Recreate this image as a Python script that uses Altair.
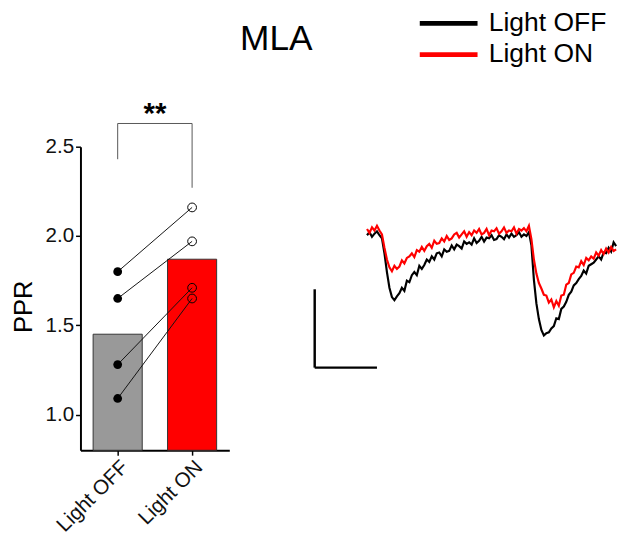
import altair as alt
import pandas as pd

FONT = "Liberation Sans"

# ---------------- data ----------------
CONDITIONS = ["Light OFF", "Light ON"]
BAR_MEANS = [1.45, 1.87]
PPR_OFF = [1.80, 1.65, 1.28, 1.09]
PPR_ON = [2.16, 1.97, 1.71, 1.65]
Y_TICKS = [1.0, 1.5, 2.0, 2.5]
BRACKET_COND = ["Light OFF", "Light OFF", "Light ON", "Light ON"]
BRACKET_Y = [2.43, 2.63, 2.63, 2.27]
SIG_LABEL = "**"
SIG_Y = 2.63

TRACE_DT = 2  # ms between samples
TRACE_OFF = [
    -1.5, 0.5, -2.5, -0.5, 1.0, -1.5, -3.5, -13.0, -25.0, -35.0,
    -41.0, -43.0, -40.5, -38.5, -35.0, -37.0, -30.5, -31.5, -27.0, -25.0,
    -27.0, -21.0, -23.0, -20.5, -17.0, -18.5, -15.0, -17.0, -13.0, -12.5,
    -15.0, -10.5, -12.0, -11.5, -8.0, -10.5, -7.5, -8.5, -10.0, -5.5,
    -7.0, -6.0, -7.5, -3.5, -6.5, -5.0, -2.5, -5.5, -3.0, -3.5,
    -1.5, -4.5, -4.0, -1.5, -2.5, -4.0, -1.0, -3.0, -0.5, -2.5,
    -1.5, 0.5, -2.5, -1.0, -2.0, 0.5, -8.0, -30.0, -45.0, -55.0,
    -62.0, -65.5, -64.0, -63.5, -61.0, -59.5, -54.5, -55.0, -48.5, -47.0,
    -44.0, -39.5, -37.5, -33.5, -32.0, -29.5, -27.5, -24.0, -26.0, -21.0,
    -20.0, -19.0, -17.0, -15.0, -17.0, -12.5, -13.0, -9.5, -12.0, -6.0,
    -8.5,
]
TRACE_ON = [
    2.5, 0.0, 3.5, 1.5, 4.5, 1.5, -1.0, -9.5, -17.0, -22.0,
    -24.5, -21.0, -23.0, -21.5, -17.5, -19.5, -16.0, -15.0, -13.0, -15.5,
    -11.0, -12.0, -9.0, -11.5, -8.5, -7.0, -9.5, -5.0, -7.0, -6.5,
    -3.5, -5.5, -2.0, -4.5, -3.5, -1.0, 0.0, -3.0, -1.0, 1.0,
    -2.5, 0.5, -1.5, 1.5, 0.0, 2.5, -1.0, 0.0, 2.5, -1.5,
    1.5, 1.0, 3.0, -0.5, 1.0, 3.5, 0.0, 1.5, 1.0, 3.5,
    -0.5, 2.5, 1.5, 3.0, 1.0, 4.5, -4.0, -17.0, -26.0, -32.0,
    -35.5, -39.5, -40.0, -44.5, -42.5, -47.5, -43.5, -46.5, -40.0, -39.5,
    -33.0, -32.0, -26.5, -25.5, -21.5, -22.0, -18.0, -20.5, -16.0, -17.5,
    -15.0, -16.5, -12.5, -14.5, -11.0, -13.5, -10.0, -12.5, -9.0, -11.5,
    -10.5,
]
SCALE_BAR_T0 = -42.0   # ms
SCALE_BAR_I0 = -86.0   # pA
SCALE_BAR_MS = 50.0
SCALE_BAR_PA = 50.0

# ---------------- tables ----------------
bars_df = pd.DataFrame({"cond": CONDITIONS, "ppr": BAR_MEANS})
pts_rows = []
for k, (a, b) in enumerate(zip(PPR_OFF, PPR_ON)):
    pts_rows.append({"pair": k, "cond": CONDITIONS[0], "ppr": a})
    pts_rows.append({"pair": k, "cond": CONDITIONS[1], "ppr": b})
pts_df = pd.DataFrame(pts_rows)
bracket_df = pd.DataFrame({"cond": BRACKET_COND, "ppr": BRACKET_Y, "order": list(range(len(BRACKET_Y)))})
sig_df = pd.DataFrame({"cond": [CONDITIONS[0]], "ppr": [SIG_Y], "label": [SIG_LABEL]})

trace_rows = []
for cond, vals in zip(CONDITIONS, [TRACE_OFF, TRACE_ON]):
    for i, v in enumerate(vals):
        trace_rows.append({"cond": cond, "t": i * TRACE_DT, "i": v})
trace_df = pd.DataFrame(trace_rows)
sb_df = pd.DataFrame({
    "t": [SCALE_BAR_T0, SCALE_BAR_T0],
    "t2": [SCALE_BAR_T0 + SCALE_BAR_MS, SCALE_BAR_T0],
    "i": [SCALE_BAR_I0, SCALE_BAR_I0],
    "i2": [SCALE_BAR_I0, SCALE_BAR_I0 + SCALE_BAR_PA],
})

# ---------------- bar panel ----------------
x_bar = alt.X(
    "cond:N", sort=CONDITIONS,
    scale=alt.Scale(domain=CONDITIONS, range=[0, 152], paddingInner=0.34, paddingOuter=0.17),
    axis=alt.Axis(title=None, labelAngle=-45, labelFontSize=21, labelFont=FONT, labelColor="#111",
                  domainColor="#000", domainWidth=2, tickColor="#000", tickWidth=1.5, tickSize=5,
                  labelPadding=1),
)
y_bar = alt.Y(
    "ppr:Q",
    scale=alt.Scale(domain=[0.8, 2.5], range=[449, 139], nice=False, zero=False),
    axis=alt.Axis(title="PPR", values=Y_TICKS, format=".1f", grid=False, labelFontSize=21,
                  labelFont=FONT, labelColor="#111", titleFont=FONT, titleFontSize=26,
                  titleFontWeight="normal", titleColor="#000", domainColor="#000", domainWidth=2,
                  tickColor="#000", tickWidth=1.5, tickSize=5, labelPadding=2, titlePadding=9,
                  titleY=302),
)

bars = alt.Chart(bars_df).mark_bar(stroke="#333333", strokeWidth=1).encode(
    x=x_bar, y=y_bar, y2=alt.datum(0.8),
    color=alt.Color("cond:N", scale=alt.Scale(domain=CONDITIONS, range=["#999999", "#ff0000"]), legend=None),
)
pair_lines = alt.Chart(pts_df).mark_line(color="#111111", strokeWidth=1).encode(
    x=x_bar, y=y_bar, detail="pair:N")
pts_off = alt.Chart(pts_df).transform_filter(alt.datum.cond == CONDITIONS[0]).mark_point(
    filled=True, color="#000000", size=80, opacity=1).encode(x=x_bar, y=y_bar)
pts_on = alt.Chart(pts_df).transform_filter(alt.datum.cond == CONDITIONS[1]).mark_point(
    filled=False, color="#000000", size=80, strokeWidth=1, opacity=1).encode(x=x_bar, y=y_bar)
bracket = alt.Chart(bracket_df).mark_line(color="#555555", strokeWidth=1).encode(
    x=x_bar, y=y_bar, order="order:O")
sig = alt.Chart(sig_df).mark_text(font=FONT, fontSize=30, fontWeight="bold", dx=38,
                                  baseline="alphabetic", color="#000").encode(
    x=x_bar, y=y_bar, text="label:N")

bar_panel = alt.layer(bars, pair_lines, pts_off, pts_on, bracket, sig)

# ---------------- trace panel ----------------
x_tr = alt.X("t:Q", scale=alt.Scale(domain=[-42, 200], range=[239.2, 547], nice=False, zero=False), axis=None)
y_tr = alt.Y("i:Q", scale=alt.Scale(domain=[-90, 10], range=[371, 211], nice=False, zero=False), axis=None)

traces = alt.Chart(trace_df).mark_line(strokeWidth=2.2).encode(
    x=x_tr, y=y_tr,
    color=alt.Color("cond:N", sort=CONDITIONS,
                    scale=alt.Scale(domain=CONDITIONS, range=["#000000", "#ff0000"]),
                    legend=alt.Legend(title=None, orient="none", legendX=344, legendY=-3,
                                      symbolType="stroke", symbolSize=3481, symbolStrokeWidth=5,
                                      labelFontSize=27, labelFont=FONT, labelColor="#000",
                                      labelOffset=9, padding=0, rowPadding=0, clipHeight=32)),
)
scalebar = alt.Chart(sb_df).mark_rule(color="#000000", strokeWidth=2.5).encode(
    x=x_tr, x2="t2:Q", y=y_tr, y2="i2:Q")

trace_panel = alt.layer(traces, scalebar)

chart = alt.layer(bar_panel, trace_panel).resolve_scale(
    x="independent", y="independent", color="independent"
).properties(
    width=547, height=449, padding={"left": 2, "top": -6, "right": 0, "bottom": 0},
    title=alt.TitleParams("MLA", font=FONT, fontSize=36, fontWeight="normal", color="#000",
                          anchor="start", frame="group", dx=163, offset=-51),
).configure_view(stroke=None)

chart.save("out.html", embed_options={"renderer": "svg", "actions": False})
